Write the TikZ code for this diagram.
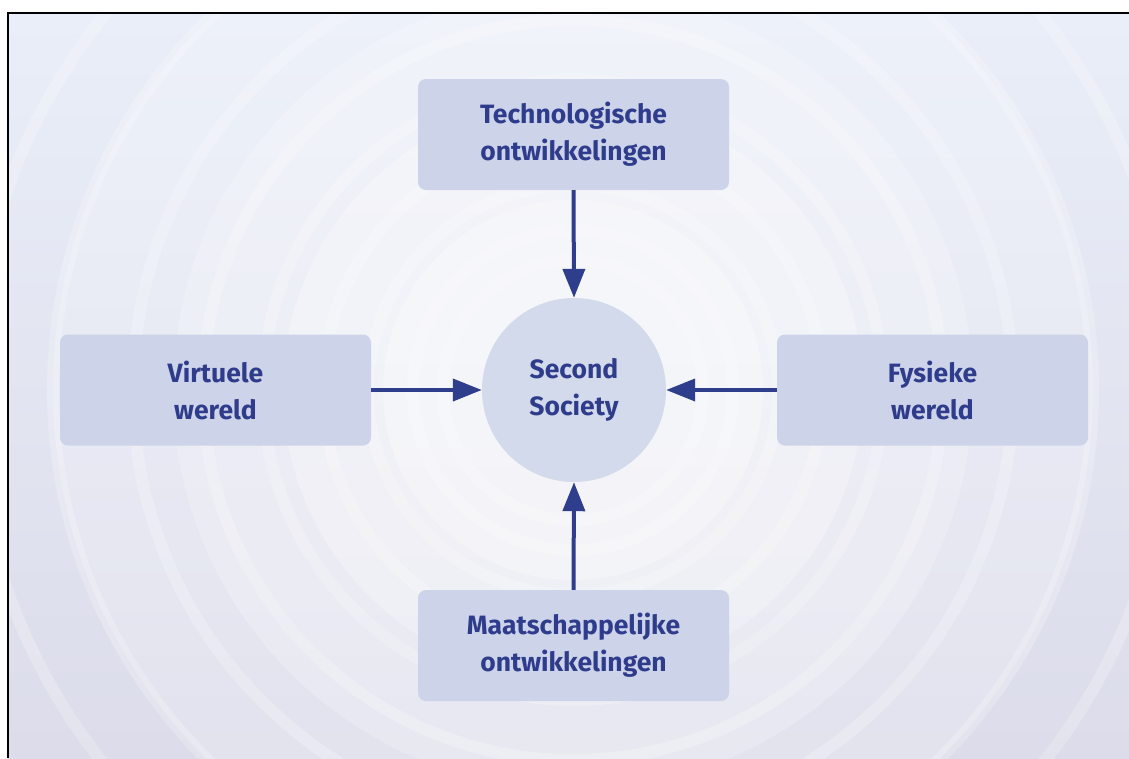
\documentclass[tikz,border=0pt]{standalone}
\usepackage{fontspec}
\setmainfont{Fira Sans}
\usetikzlibrary{arrows.meta,shapes.geometric}
\definecolor{txtblue}{HTML}{2F3C8C}
\definecolor{arrblue}{HTML}{2E3D8C}
\definecolor{boxfill}{HTML}{CDD4EA}
\definecolor{circfill}{HTML}{D3DAEC}
\definecolor{bgtop}{HTML}{E9EEF8}
\definecolor{bgbot}{HTML}{DCDCEA}
\tikzset{
  lbl/.style={font=\fontsize{26.5}{37}\selectfont\bfseries, text=txtblue, align=center},
  boxnode/.style={lbl, fill=boxfill, rounded corners=8pt, minimum width=311pt, minimum height=111pt, inner sep=0pt},
  circnode/.style={lbl, circle, fill=circfill, minimum size=184pt, inner sep=0pt},
  conn/.style={arrblue, line width=4pt, -{Triangle[width=22pt,length=29pt]}},
}
\begin{document}
\begin{tikzpicture}[x=1pt,y=-1pt]
\useasboundingbox (0,0) rectangle (1129,758);
% background
\shade[top color=bgtop, bottom color=bgbot] (8,13) rectangle (1129,758);
\begin{scope}
\clip (8,13) rectangle (1129,758);
\fill[white, opacity=0.2] (573,390) circle (520);
\fill[white, opacity=0.2] (573,390) circle (400);
\fill[white, opacity=0.25] (573,390) circle (290);
\fill[white, opacity=0.3] (573,390) circle (190);
\foreach \r in {130,160,205,250,310,370,440,520,600}
  \draw[white, opacity=0.22, line width=12pt] (573,390) circle (\r);
\end{scope}
\draw[black, line width=2pt] (7.5,758) -- (7.5,12.5) -- (1129,12.5);
% nodes
\node[circnode] (c) at (574,390) {Second\\Society};
\node[boxnode] (t) at (573.5,134.5) {Technologische\\ontwikkelingen};
\node[boxnode] (l) at (215.5,390) {Virtuele\\wereld};
\node[boxnode] (r) at (932.5,390) {Fysieke\\wereld};
\node[boxnode] (b) at (573.5,645.5) {Maatschappelijke\\ontwikkelingen};
% connectors
\draw[conn] (t.south) -- (c.north);
\draw[conn] (l.east) -- (c.west);
\draw[conn] (r.west) -- (c.east);
\draw[conn] (b.north) -- (c.south);
\end{tikzpicture}
\end{document}
